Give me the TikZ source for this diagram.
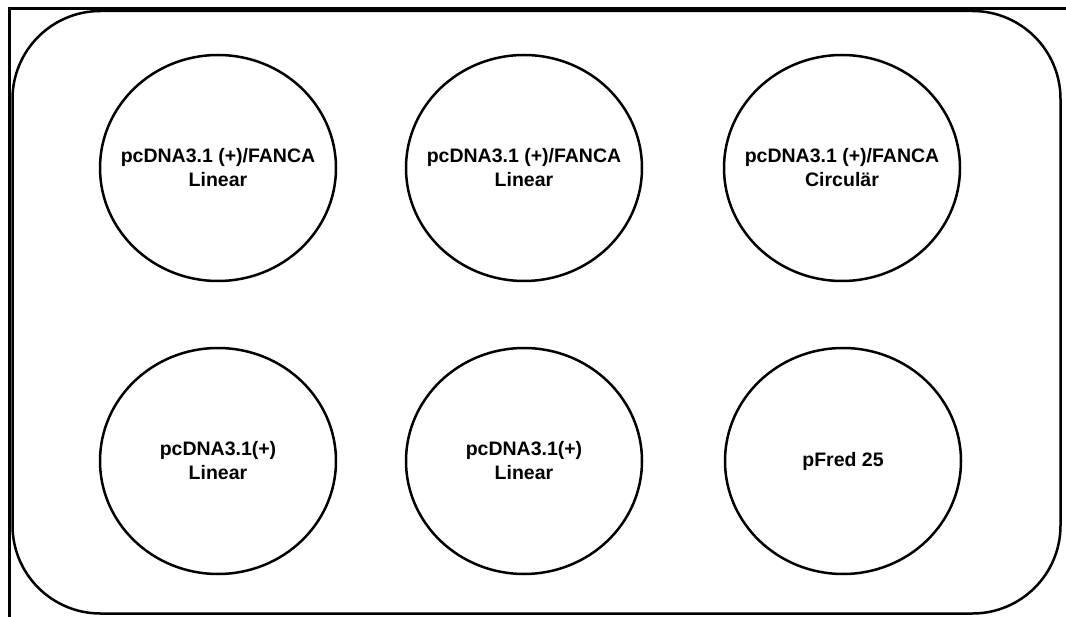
\documentclass[tikz,border=0pt]{standalone}
\usepackage{fontspec}
\setmainfont{Liberation Sans}
\usetikzlibrary{shapes.geometric}
\tikzset{
  frameline/.style={line width=3pt},
  plate/.style={line width=2.5pt, rounded corners=88pt},
  well/.style={draw, ellipse, line width=2.5pt, minimum width=236pt, minimum height=226pt,
    inner sep=0pt},
  welltext/.style={inner sep=0pt, align=center, font=\fontsize{19.5}{24}\selectfont\bfseries}
}
\begin{document}
\begin{tikzpicture}[x=1pt,y=-1pt]
\useasboundingbox (0,0) rectangle (1066,617);
\coordinate (fa) at (9,617);
\coordinate (fb) at (9,8.5);
\coordinate (fc) at (1066,8.5);
\draw[frameline] (fa) -- (fb) -- (fc);
\draw[plate] (12.5,11) rectangle (1060.5,613.5);
\node[well] (w1) at (218,168) {};
\node[well] (w2) at (524,168) {};
\node[well] (w3) at (842,168) {};
\node[well] (w4) at (218,461) {};
\node[well] (w5) at (524,461) {};
\node[well] (w6) at (843,461) {};
\node[welltext] (t1) at (w1) {pcDNA3.1 (+)/FANCA\\Linear};
\node[welltext] (t2) at (w2) {pcDNA3.1 (+)/FANCA\\Linear};
\node[welltext] (t3) at (w3) {pcDNA3.1 (+)/FANCA\\Circulär};
\node[welltext] (t4) at (w4) {pcDNA3.1(+)\\Linear};
\node[welltext] (t5) at (w5) {pcDNA3.1(+)\\Linear};
\node[welltext] (t6) at (w6) {pFred 25};
\end{tikzpicture}
\end{document}
